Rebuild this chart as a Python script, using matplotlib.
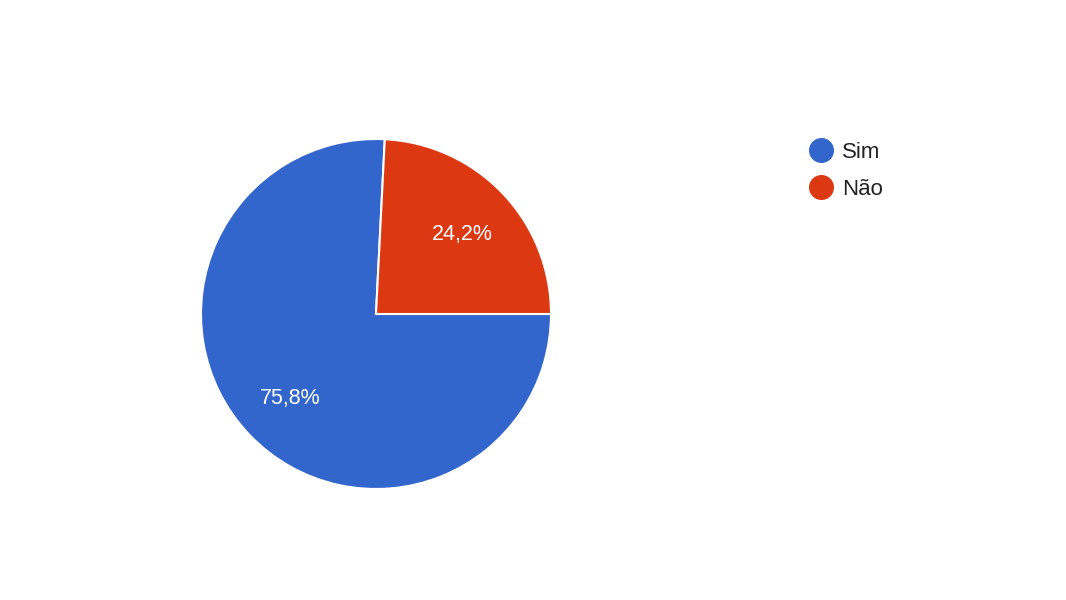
import matplotlib
matplotlib.use("Agg")
import matplotlib.pyplot as plt
from matplotlib.lines import Line2D

labels = ["Sim", "Não"]
values = [75.8, 24.2]
colors = ["#3366cc", "#dc3912"]

plt.rcParams['font.family'] = ['Liberation Sans', 'DejaVu Sans']

W, H = 1066, 600
fig = plt.figure(figsize=(W / 100, H / 100), dpi=100)
ax = fig.add_axes([0, 0, 1, 1])

def fmt(p):
    return f"{p:.1f}%".replace('.', ',')

wedges, texts, autotexts = ax.pie(
    values, colors=colors, startangle=0, counterclock=False,
    center=(376, H - 314), radius=175, autopct=fmt, pctdistance=0.68,
    wedgeprops=dict(edgecolor='white', linewidth=1.5),
    textprops=dict(color='white', fontsize=15.5))
for t in autotexts:
    t.set_va('center_baseline')
    t.set_ha('center')

ax.set_xlim(0, W)
ax.set_ylim(0, H)
ax.set_aspect('equal')
ax.axis('off')

handles = [Line2D([], [], linestyle='none', marker='o', markersize=17,
                  markerfacecolor=c, markeredgecolor=c) for c in colors]
leg = ax.legend(handles, labels, loc='upper left',
                bbox_to_anchor=(810 / W, 1 - 142 / H), bbox_transform=fig.transFigure,
                frameon=False, fontsize=16, handlelength=1.0, handletextpad=0.45,
                labelspacing=0.7, borderpad=0, borderaxespad=0)
for t in leg.get_texts():
    t.set_color('#222222')

fig.savefig("out.png", dpi=100, facecolor='white')
